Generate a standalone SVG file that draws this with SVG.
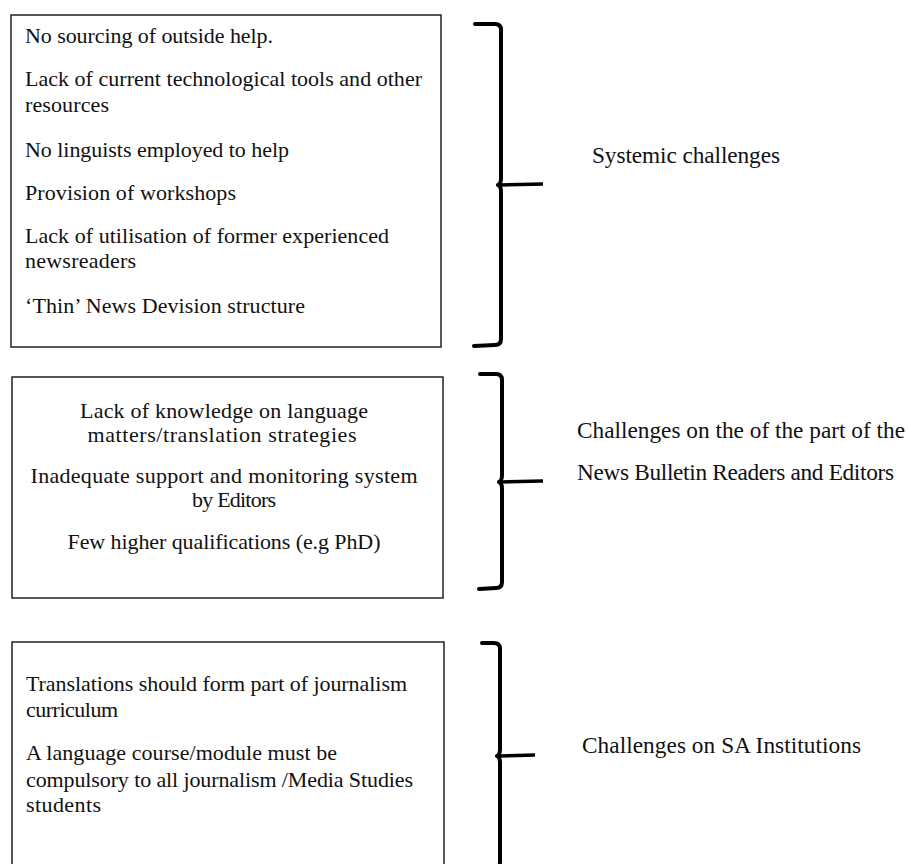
<svg xmlns="http://www.w3.org/2000/svg" width="909" height="864" viewBox="0 0 909 864">
<style>
.box{fill:#fff;stroke:#222;stroke-width:1.5}
.t{font-family:"Liberation Serif","Times New Roman",serif;font-size:22px;fill:#111}
.c{text-anchor:middle}
.lbl{font-family:"Liberation Serif","Times New Roman",serif;font-size:23.3px;fill:#111}
.br{fill:none;stroke:#000;stroke-width:4;stroke-linecap:round;stroke-linejoin:round}
.tick{fill:none;stroke:#000;stroke-width:3.5;stroke-linecap:butt}
</style>
<rect width="909" height="864" fill="#fff"/>
<g id="node-systemic-box">
<rect class="box" x="11" y="15" width="430" height="332"/>
<text class="t" x="25" y="43" textLength="248">No sourcing of outside help.</text>
<text class="t" x="25" y="86" textLength="397">Lack of current technological tools and other</text>
<text class="t" x="25" y="112" textLength="84">resources</text>
<text class="t" x="25" y="157" textLength="264">No linguists employed to help</text>
<text class="t" x="25" y="200" textLength="211">Provision of workshops</text>
<text class="t" x="25" y="243" textLength="364">Lack of utilisation of former experienced</text>
<text class="t" x="25" y="268" textLength="111">newsreaders</text>
<text class="t" x="25" y="313" textLength="280">‘Thin’ News Devision structure</text>
</g>
<g id="node-readers-box">
<rect class="box" x="12" y="377" width="431" height="221"/>
<text class="t c" x="224" y="418" textLength="288">Lack of knowledge on language</text>
<text class="t c" x="222" y="442" textLength="269">matters/translation strategies</text>
<text class="t c" x="224" y="483" textLength="387">Inadequate support and monitoring system</text>
<text class="t c" x="234" y="507" textLength="84">by Editors</text>
<text class="t c" x="224" y="549" textLength="313">Few higher qualifications (e.g PhD)</text>
</g>
<g id="node-institutions-box">
<rect class="box" x="12" y="642" width="432" height="240"/>
<text class="t" x="26" y="691" textLength="381">Translations should form part of journalism</text>
<text class="t" x="26" y="717" textLength="92">curriculum</text>
<text class="t" x="26" y="760" textLength="311">A language course/module must be</text>
<text class="t" x="26" y="787" textLength="387">compulsory to all journalism /Media Studies</text>
<text class="t" x="26" y="812" textLength="75">students</text>
</g>
<g id="node-systemic-label">
<text class="lbl" x="592" y="163" textLength="188">Systemic challenges</text>
</g>
<g id="node-readers-label">
<text class="lbl" x="577" y="438" textLength="328">Challenges on the of the part of the</text>
<text class="lbl" x="577" y="480" textLength="317">News Bulletin Readers and Editors</text>
</g>
<g id="node-institutions-label">
<text class="lbl" x="582" y="753" textLength="279">Challenges on SA Institutions</text>
</g>
<g id="connectors">
<path class="br" d="M475,24 L495,24 Q501,24 501,30 L501,178 Q501,184 498,185 Q501,186 501,192 L501,339 Q501,345 495,345 L474,346"/>
<path class="tick" d="M499,185 L543,184"/>
<path class="br" d="M480,374 L496,374 Q502,374 502,380 L502,475 Q502,481 499,482 Q502,483 502,489 L502,582 Q502,588 496,588 L479,589"/>
<path class="tick" d="M500,482 L543,481"/>
<path class="br" d="M482,643 L494,643 Q500,643 500,649 L500,749 Q500,755 497,756 Q500,757 500,763 L500,862 Q500,868 494,868 L482,869"/>
<path class="tick" d="M498,756 L535,755"/>
</g>
</svg>
